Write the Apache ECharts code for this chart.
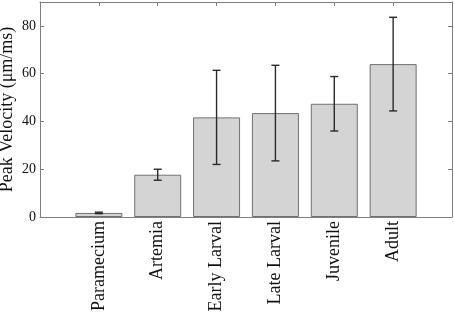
<!DOCTYPE html>
<html>
<head>
<meta charset="utf-8">
<script src="https://cdn.jsdelivr.net/npm/echarts@6/dist/echarts.min.js"></script>
<style>
  html, body { margin: 0; padding: 0; background: #fff; }
  #chart { width: 454px; height: 313px; }
</style>
</head>
<body>
<div id="chart"></div>
<script>
// groups along x, mean peak velocity and its error (+/-)
var categories = ['Paramecium', 'Artemia', 'Early Larval', 'Late Larval', 'Juvenile', 'Adult'];
var peakVelocity = [1.7, 17.7, 41.7, 43.5, 47.4, 64.0];
var velocityErr = [0.3, 2.3, 19.7, 20.0, 11.4, 19.6];
var yTicks = [0, 20, 40, 60, 80];

var font = 'Liberation Serif';
var axisGray = '#7f7f7f';

function tickStyle() {
  return { show: true, inside: true, length: 4, lineStyle: { color: axisGray, width: 1 } };
}

function lineStyle() {
  return { show: true, onZero: false, lineStyle: { color: axisGray, width: 1 } };
}

function initChart(dom) {
  var myChart = echarts.init(dom, null, { renderer: 'canvas' }),
    barData = categories.map(function (c, i) { return [i + 1, peakVelocity[i]]; }),
    errData = categories.map(function (c, i) {
      return [i + 1, peakVelocity[i] - velocityErr[i], peakVelocity[i] + velocityErr[i]];
    }),
    option = {
      animation: false,
      grid: { left: 40, right: 2, top: 2, bottom: 96, outerBoundsMode: 'none' },
      xAxis: [{
        type: 'value',
        min: 0,
        max: 7,
        interval: 1,
        position: 'bottom',
        axisLine: lineStyle(),
        axisTick: tickStyle(),
        splitLine: { show: false },
        axisLabel: {
          rotate: 90,
          margin: 4,
          color: '#111',
          fontFamily: font,
          fontSize: 18,
          formatter: function (v) { return categories[v - 1] || ''; }
        }
      }, {
        type: 'value',
        min: 0,
        max: 7,
        interval: 1,
        position: 'top',
        axisLine: lineStyle(),
        axisTick: tickStyle(),
        axisLabel: { show: false },
        splitLine: { show: false }
      }],
      yAxis: [{
        type: 'value',
        min: 0,
        max: 90,
        interval: 20,
        position: 'left',
        name: 'Peak Velocity (μm/ms)',
        nameLocation: 'middle',
        nameGap: 24,
        nameMoveOverlap: false,
        nameTextStyle: { color: '#111', fontFamily: font, fontSize: 18 },
        axisLine: lineStyle(),
        axisTick: tickStyle(),
        splitLine: { show: false },
        axisLabel: {
          color: '#111',
          fontFamily: font,
          fontSize: 14,
          margin: 4,
          formatter: function (v) { return yTicks.indexOf(v) >= 0 ? String(v) : ''; }
        }
      }, {
        type: 'value',
        min: 0,
        max: 90,
        interval: 20,
        position: 'right',
        axisLine: lineStyle(),
        axisTick: tickStyle(),
        axisLabel: { show: false },
        splitLine: { show: false }
      }],
      series: [{
        type: 'bar',
        xAxisIndex: 0,
        yAxisIndex: 0,
        barWidth: 47,
        itemStyle: { color: '#d4d4d4', borderColor: '#707070', borderWidth: 1 },
        data: barData
      }, {
        type: 'custom',
        xAxisIndex: 0,
        yAxisIndex: 0,
        z: 5,
        data: errData,
        renderItem: function (params, api) {
          var top = api.coord([api.value(0), api.value(2)]),
            bottom = api.coord([api.value(0), api.value(1)]),
            cap = 4,
            style = { stroke: '#2a2a2a', lineWidth: 1.4 };
          return {
            type: 'group',
            children: [
              { type: 'line', shape: { x1: top[0], y1: top[1], x2: bottom[0], y2: bottom[1] }, style: style },
              { type: 'line', shape: { x1: top[0] - cap, y1: top[1], x2: top[0] + cap, y2: top[1] }, style: style },
              { type: 'line', shape: { x1: bottom[0] - cap, y1: bottom[1], x2: bottom[0] + cap, y2: bottom[1] }, style: style }
            ]
          };
        }
      }]
    };
  myChart.setOption(option, true);
  window.addEventListener('resize', function () {
    myChart.resize();
  });
}

initChart(document.getElementById('chart'));
</script>
</body>
</html>
